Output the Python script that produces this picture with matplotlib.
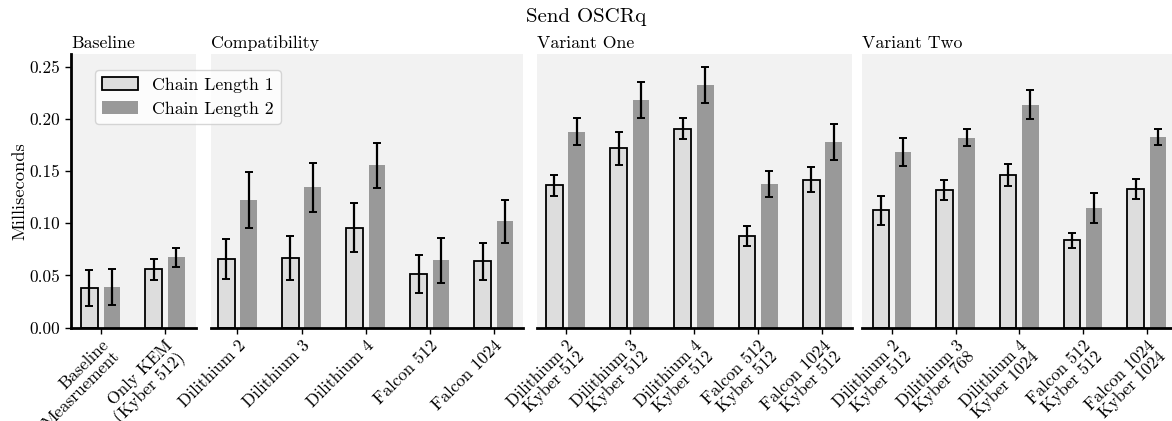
#!/usr/bin/env python3

import matplotlib
matplotlib.use("Agg")
import matplotlib.pyplot as plt
import numpy as np

# values (milliseconds)
baseline_labels = ["Baseline\nMeasruement", "Only KEM\n(Kyber 512)"]
baseline_cl1 = [0.038, 0.0558]
baseline_cl1_err = [0.0168, 0.0102]
baseline_cl2 = [0.039, 0.0672]
baseline_cl2_err = [0.017, 0.0088]

compat_labels = ["Dilithium 2", "Dilithium 3", "Dilithium 4", "Falcon 512", "Falcon 1024"]
compat_cl1 = [0.066, 0.0668, 0.0955, 0.0516, 0.0634]
compat_cl1_err = [0.019, 0.0211, 0.0234, 0.018, 0.0174]
compat_cl2 = [0.122, 0.1343, 0.1553, 0.0647, 0.1019]
compat_cl2_err = [0.0267, 0.0237, 0.0211, 0.0216, 0.0207]

var1_labels = ["Dilithium 2\nKyber 512", "Dilithium 3\nKyber 512", "Dilithium 4\nKyber 512",
               "Falcon 512\nKyber 512", "Falcon 1024\nKyber 512"]
var1_cl1 = [0.1362, 0.1716, 0.1906, 0.0875, 0.1417]
var1_cl1_err = [0.0104, 0.0154, 0.0100, 0.0097, 0.0122]
var1_cl2 = [0.1875, 0.2181, 0.2324, 0.1378, 0.1779]
var1_cl2_err = [0.0129, 0.0170, 0.0173, 0.0123, 0.0175]

var2_labels = ["Dilithium 2\nKyber 512", "Dilithium 3\nKyber 768", "Dilithium 4\nKyber 1024",
               "Falcon 512\nKyber 512", "Falcon 1024\nKyber 1024"]
var2_cl1 = [0.1123, 0.1318, 0.1461, 0.0836, 0.1327]
var2_cl1_err = [0.0139, 0.0092, 0.0109, 0.0071, 0.0097]
var2_cl2 = [0.1684, 0.1818, 0.2136, 0.1149, 0.1827]
var2_cl2_err = [0.0133, 0.0083, 0.0137, 0.0142, 0.0078]

panels = [
    ("Baseline", baseline_labels, baseline_cl1, baseline_cl1_err, baseline_cl2, baseline_cl2_err),
    ("Compatibility", compat_labels, compat_cl1, compat_cl1_err, compat_cl2, compat_cl2_err),
    ("Variant One", var1_labels, var1_cl1, var1_cl1_err, var1_cl2, var1_cl2_err),
    ("Variant Two", var2_labels, var2_cl1, var2_cl1_err, var2_cl2, var2_cl2_err),
]

plt.rcParams["font.family"] = "serif"
plt.rcParams["font.serif"] = ["cmr10"]
plt.rcParams["mathtext.fontset"] = "cm"
plt.rcParams["axes.unicode_minus"] = False
plt.rcParams["axes.formatter.use_mathtext"] = True
plt.rcParams["font.size"] = 12.5


def main():
    W, H = 1172, 421
    fig = plt.figure(figsize=(W / 100, H / 100), dpi=100)

    # axes edges in pixels (left, right)
    edges = [(71, 196), (210.5, 522.7), (536.7, 852), (862, 1176)]
    xlims = [(-0.46, 1.48), (-0.42, 4.45), (-0.45, 4.46), (-0.47, 4.46)]
    top, bottom = 54, 327.7

    width = 0.26
    off = 0.175
    axes = []
    for i, (title, labels, c1, e1, c2, e2) in enumerate(panels):
        l, r = edges[i]
        ax = fig.add_axes([l / W, 1 - bottom / H, (r - l) / W, (bottom - top) / H],
                          sharey=axes[0] if axes else None)
        axes.append(ax)
        x = np.arange(len(labels))
        ekw = dict(elinewidth=1.6, capthick=1.4, ecolor="black")
        b1 = ax.bar(x - off, c1, width, yerr=e1, capsize=3, color="#dddddd",
                    edgecolor="black", linewidth=1.3, error_kw=ekw, label="Chain Length 1")
        b2 = ax.bar(x + off, c2, width, yerr=e2, capsize=3, color="#999999",
                    error_kw=ekw, label="Chain Length 2")
        ax.set_facecolor("#f2f2f2")
        ax.set_xlim(*xlims[i])
        ax.set_xticks(x)
        ax.set_xticklabels(labels, rotation=45, ha="right", rotation_mode="anchor",
                           linespacing=1.0)
        ax.set_title(title, loc="left", fontsize=12.8, pad=4)
        for s in ["top", "right", "left"]:
            ax.spines[s].set_visible(False)
        ax.spines["bottom"].set_linewidth(2)
        ax.tick_params(axis="x", length=4, width=1, pad=3)
        if i == 0:
            ax.spines["left"].set_linewidth(2)
            ax.spines["left"].set_visible(True)
            ax.set_ylabel("Milliseconds", fontsize=13.3, labelpad=2)
            ax.tick_params(axis="y", length=4, width=1)
        else:
            ax.tick_params(axis="y", left=False, labelleft=False)

    axes[0].set_ylim(0, 0.262)
    axes[0].set_yticks([0, 0.05, 0.10, 0.15, 0.20, 0.25])
    axes[0].set_yticklabels(["0.00", "0.05", "0.10", "0.15", "0.20", "0.25"])

    fig.legend(handles=[b1, b2], labels=["Chain Length 1", "Chain Length 2"],
               loc="upper left", bbox_to_anchor=(95 / W, 1 - 70 / H), borderaxespad=0,
               fontsize=12.8, framealpha=0.8, borderpad=0.4, handlelength=2.0)
    fig.suptitle("Send OSCRq", y=1 - 8 / H, va="top", fontsize=15)

    fig.savefig("out.png", dpi=100)


if __name__ == "__main__":
    main()
